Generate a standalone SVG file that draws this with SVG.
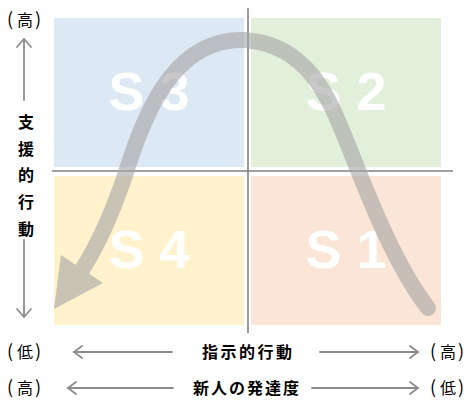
<svg xmlns="http://www.w3.org/2000/svg" width="471" height="401" viewBox="0 0 471 401">
<style>
.q{stroke:none}
.s{font-family:"Liberation Sans",Arial,sans-serif;font-weight:bold;font-size:54px;fill:#ffffff;text-anchor:middle}
.ax{stroke:#808080;stroke-width:1.6;fill:none}
.ar{stroke:#8c8c8c;stroke-width:1.8;fill:none;stroke-linecap:round;stroke-linejoin:miter}
.lbl{font-family:"Noto Sans CJK JP","Noto Sans CJK SC",sans-serif;font-size:15px;fill:#000;text-anchor:middle}
.p{font-family:"Noto Sans CJK JP","Noto Sans CJK SC",sans-serif;font-size:16px;fill:#000}
.pp{font-size:18px}
.b{font-weight:bold;font-size:16px}
</style>
<rect width="471" height="401" fill="#ffffff"/>
<g id="S3"><rect class="q" x="54" y="18" width="190" height="149" fill="#DDE8F5"/><text class="s" x="149" y="110">S 3</text></g>
<g id="S2"><rect class="q" x="251" y="18" width="190" height="149" fill="#E2EFDA"/><text class="s" x="346" y="110">S 2</text></g>
<g id="S4"><rect class="q" x="54" y="176" width="190" height="149" fill="#FFF2CC"/><text class="s" x="149" y="268">S 4</text></g>
<g id="S1"><rect class="q" x="251" y="176" width="190" height="149" fill="#FBE5D6"/><text class="s" x="346" y="268">S 1</text></g>
<g id="connectors">
<line class="ax" x1="248" y1="8" x2="248" y2="333"/>
<line class="ax" x1="52" y1="171" x2="453" y2="171"/>
<g opacity="0.6">
<path d="M428 308 C395 265 370 200 350 150 C330 100 310 45 245 40 C180 38 150 100 130 160 C120 192 104 235 82 270" fill="none" stroke="#A5A5A5" stroke-width="16" stroke-linecap="round"/>
<polygon points="54,309 61,255 103,283" fill="#A5A5A5"/>
</g>
<line class="ar" x1="24" y1="39" x2="24" y2="100"/>
<polyline class="ar" points="17,47 24,39 31,47"/>
<line class="ar" x1="24" y1="240" x2="24" y2="317"/>
<polyline class="ar" points="17,309 24,317 31,309"/>
<line class="ar" x1="74" y1="352" x2="172" y2="352"/>
<polyline class="ar" points="82,346 74,352 82,358"/>
<line class="ar" x1="320" y1="352" x2="418" y2="352"/>
<polyline class="ar" points="410,346 418,352 410,358"/>
<line class="ar" x1="68" y1="388" x2="173" y2="388"/>
<polyline class="ar" points="76,382 68,388 76,394"/>
<line class="ar" x1="312" y1="388" x2="418" y2="388"/>
<polyline class="ar" points="410,382 418,388 410,394"/>
</g>
<g id="labels">
<text class="p" y="26"><tspan class="pp" x="7">(</tspan><tspan x="17">高</tspan><tspan class="pp" x="35">)</tspan></text>
<text class="lbl b" x="26" y="128">支</text>
<text class="lbl b" x="26" y="155">援</text>
<text class="lbl b" x="26" y="181">的</text>
<text class="lbl b" x="26" y="208">行</text>
<text class="lbl b" x="26" y="235">動</text>
<text class="p" y="358"><tspan class="pp" x="7">(</tspan><tspan x="17">低</tspan><tspan class="pp" x="35">)</tspan></text>
<text class="lbl b" x="247" y="358" textLength="90">指示的行動</text>
<text class="p" y="358"><tspan class="pp" x="430">(</tspan><tspan x="440">高</tspan><tspan class="pp" x="458">)</tspan></text>
<text class="p" y="394"><tspan class="pp" x="7">(</tspan><tspan x="17">高</tspan><tspan class="pp" x="35">)</tspan></text>
<text class="lbl b" x="246" y="394" textLength="106">新人の発達度</text>
<text class="p" y="394"><tspan class="pp" x="430">(</tspan><tspan x="440">低</tspan><tspan class="pp" x="458">)</tspan></text>
</g>
</svg>
